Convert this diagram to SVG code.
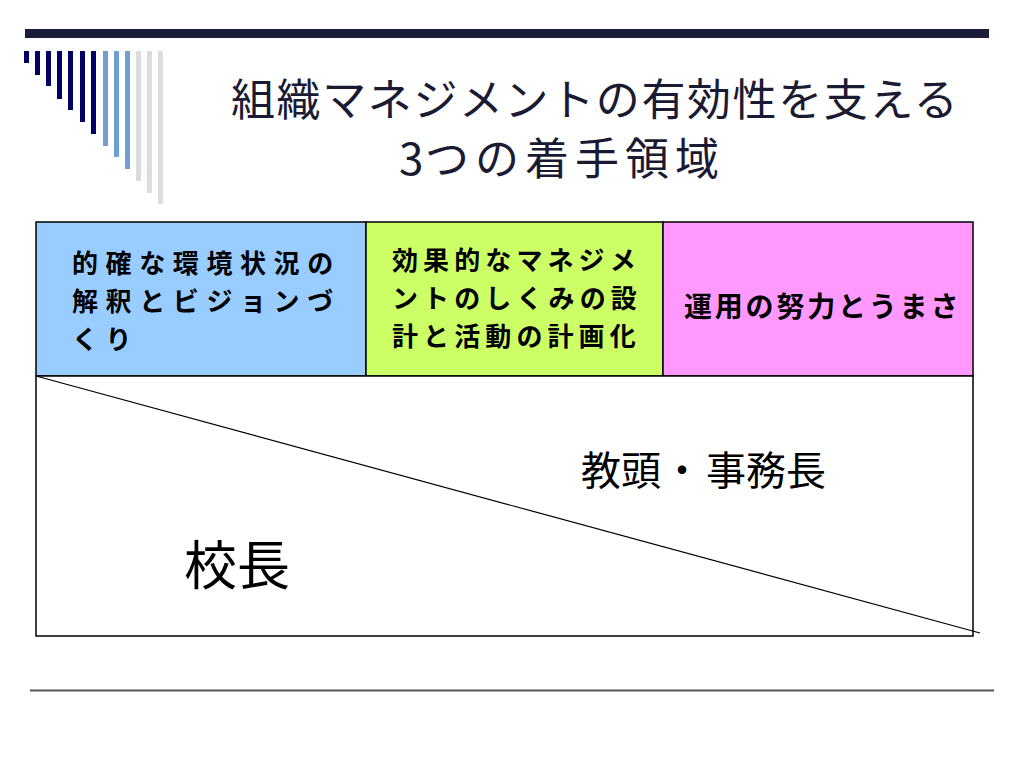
<svg xmlns="http://www.w3.org/2000/svg" width="1024" height="768" viewBox="0 0 1024 768">
<style>
.title{font-family:"Noto Sans CJK JP","Liberation Sans",sans-serif;font-size:44px;fill:#1a1a33;letter-spacing:1.6px}
.cell{font-family:"Noto Sans CJK JP","Liberation Sans",sans-serif;font-weight:bold;fill:#000}
.c1{font-size:26px;letter-spacing:7.6px}
.c2{font-size:26px;letter-spacing:5.1px}
.c3{font-size:28px;letter-spacing:2.8px}
.big{font-family:"Noto Sans CJK JP","Liberation Sans",sans-serif;fill:#000}
.bd{stroke:#000;stroke-width:1.5}
.navy{fill:#000066}.lb{fill:#6d9fd1}.gr{fill:#dcdcdc}
</style>
<rect width="1024" height="768" fill="#fff"/>
<g id="decoration">
<rect x="25" y="29" width="964" height="9" fill="#1c1c3a"/>
<rect class="navy" x="24" y="51" width="5" height="12"/>
<rect class="navy" x="35" y="51" width="5" height="24"/>
<rect class="navy" x="46" y="51" width="5" height="35"/>
<rect class="navy" x="57" y="51" width="5" height="48"/>
<rect class="navy" x="68" y="51" width="5" height="59"/>
<rect class="navy" x="80" y="51" width="5" height="71"/>
<rect class="navy" x="91" y="51" width="5" height="83"/>
<rect class="lb" x="103" y="51" width="5" height="95"/>
<rect class="lb" x="114" y="51" width="5" height="106"/>
<rect class="lb" x="125" y="51" width="5" height="118"/>
<rect class="gr" x="136" y="51" width="5" height="130"/>
<rect class="gr" x="147" y="51" width="5" height="142"/>
<rect class="gr" x="158" y="51" width="5" height="153"/>
<rect x="30" y="689.5" width="964" height="2" fill="#555"/>
</g>
<g id="title">
<text class="title"><tspan x="231" y="116">組織マネジメントの有効性を支える</tspan><tspan x="399" y="175">3</tspan><tspan x="425" y="175" letter-spacing="6">つの着手領域</tspan></text>
</g>
<g id="table">
<g id="cell-leadership">
<rect x="36" y="222" width="330" height="154" fill="#99ccff" class="bd"/>
<text class="cell c1"><tspan x="72" y="273">的確な環境状況の</tspan><tspan x="72" y="311">解釈とビジョンづ</tspan><tspan x="72" y="349">くり</tspan></text>
</g>
<g id="cell-design">
<rect x="366" y="222" width="297" height="154" fill="#ccff66" class="bd"/>
<text class="cell c2"><tspan x="392" y="270">効果的なマネジメ</tspan><tspan x="392" y="308">ントのしくみの設</tspan><tspan x="392" y="346">計と活動の計画化</tspan></text>
</g>
<g id="cell-operation">
<rect x="663" y="222" width="310" height="154" fill="#ff99ff" class="bd"/>
<text class="cell c3" x="684" y="317">運用の努力とうまさ</text>
</g>
<g id="lower">
<rect x="36" y="376" width="937" height="260" fill="#fff" class="bd"/>
<text class="big" x="581" y="485" font-size="40"><tspan>教頭</tspan><tspan x="662">・</tspan><tspan x="706">事務長</tspan></text>
<text class="big" x="184" y="585" font-size="53">校長</text>
</g>
</g>
<g id="connectors">
<line x1="36" y1="376" x2="980" y2="633" stroke="#000" stroke-width="1.2"/>
</g>
</svg>
